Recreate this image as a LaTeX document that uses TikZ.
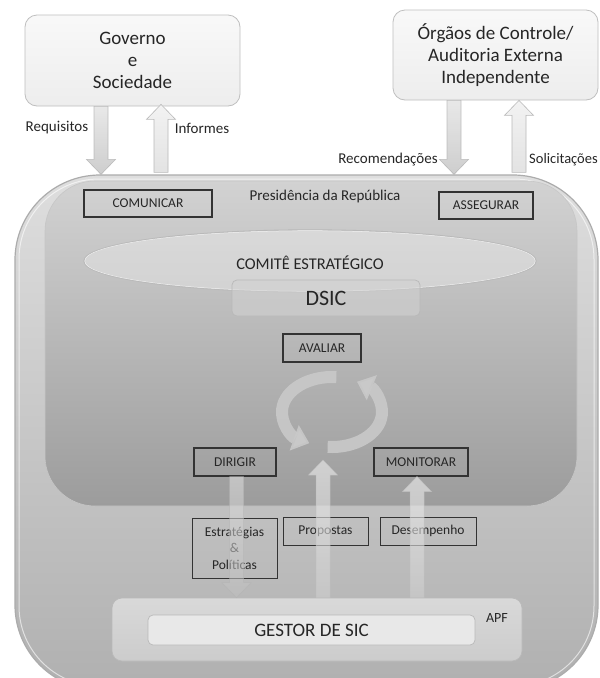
\documentclass[tikz,border=0pt]{standalone}
\usepackage{fontspec}
\setmainfont{Carlito}
\usetikzlibrary{shapes.geometric,arrows.meta,calc}
\definecolor{txt}{HTML}{262626}
\definecolor{outTop}{HTML}{DEDEDE}
\definecolor{outMid}{HTML}{D2D2D2}
\definecolor{outBot}{HTML}{B0B0B0}
\definecolor{inTop}{HTML}{D2D2D2}
\definecolor{inBot}{HTML}{9C9C9C}
\newcommand\vfat[3]{%
  \path[#3] let \p1=(#1), \p2=(#2), \p3=($(#2)!15pt!(#1)$) in
    (\x1-7pt,\y1) -- (\x1-7pt,\y3) -- (\x1-14.5pt,\y3) -- (\x2,\y2) --
    (\x1+14.5pt,\y3) -- (\x1+7pt,\y3) -- (\x1+7pt,\y1) -- cycle;}
\tikzset{
  topbox/.style={rectangle, rounded corners=12pt, draw=gray!50, line width=0.8pt,
    top color=gray!5, bottom color=gray!14, align=center, text=txt,
    font=\fontsize{19}{22}\selectfont, inner sep=0pt},
  tag/.style={rectangle, draw=black!80, line width=1.1pt, text=txt,
    font=\fontsize{13.5}{16.5}\selectfont, inner sep=0pt, align=center},
  lbl/.style={text=txt, font=\fontsize{15}{18}\selectfont, inner sep=0pt},
  fatdark/.style={draw=gray!60, line width=0.6pt, top color=gray!22, bottom color=gray!48, fill opacity=0.8, draw opacity=0.8},
  fatdir/.style={draw=gray!60, line width=0.5pt, top color=gray!25, bottom color=gray!50, fill opacity=0.55, draw opacity=0.6},
  fatlight/.style={draw=gray!55, line width=0.6pt, top color=gray!10, bottom color=gray!22},
  fatbot/.style={draw=gray!50, line width=0.5pt, top color=gray!12, bottom color=gray!38, fill opacity=0.6, draw opacity=0.7},
  cyc/.style={line width=12pt, draw=gray!42, -{Triangle[width=26pt,length=16pt]}, draw opacity=0.9},
}
\begin{document}
\begin{tikzpicture}[x=1pt,y=-1pt]
\useasboundingbox (0,0) rectangle (600,678);
\clip (0,0) rectangle (600,678);
\fill[white] (0,0) rectangle (600,678);

% top boxes
\node[topbox, minimum width=215pt, minimum height=91pt] (gov) at (132.5,60.5) {Governo\\e\\Sociedade};
\node[topbox, minimum width=205pt, minimum height=90pt] (org) at (495.5,55) {Órgãos de Controle/\\Auditoria Externa\\Independente};

% outer container
\node[draw=gray!65, line width=1.2pt, rounded corners=85pt, minimum width=583pt, minimum height=515pt,
  top color=outTop, middle color=outMid, bottom color=outBot, inner sep=0pt] (outer) at (306.5,432.5) {};
\node[draw=white, draw opacity=0.6, line width=1pt, rounded corners=80pt, minimum width=575pt, minimum height=507pt,
  inner sep=0pt] (outerhl) at (306.5,432.5) {};
% inner dark area
\node[draw=gray!45, line width=0.6pt, rounded corners=50pt, minimum width=532pt, minimum height=325pt,
  top color=inTop, bottom color=inBot, inner sep=0pt] (inner) at (311,343.5) {};

\node[lbl] (pres) at (325,196) {Presidência da República};
\node[tag, minimum width=128pt, minimum height=27pt] (com) at (148,203.5) {COMUNICAR};
\node[tag, minimum width=94pt, minimum height=27pt] (ass) at (486,205.5) {ASSEGURAR};

% comite / DSIC
\node[ellipse, minimum width=452pt, minimum height=62pt, inner sep=0pt, fill=gray!12, fill opacity=0.4,
  draw=gray!55, line width=1.3pt] (com1) at (310,261) {};
\draw[white, opacity=0.8, line width=0.5pt] (com1.center) ellipse[x radius=225.3, y radius=30.3];
\node[text=txt, font=\fontsize{16.4}{19}\selectfont] (comtxt) at (310,263) {COMITÊ ESTRATÉGICO};
\node[rectangle, rounded corners=5pt, minimum width=188pt, minimum height=36pt, inner sep=0pt,
  fill=gray!35, fill opacity=0.55, draw=gray!55, line width=0.7pt, text=txt, text opacity=1,
  font=\fontsize{22}{26}\selectfont] (dsic) at (326,298) {DSIC};

\node[tag, minimum width=78pt, minimum height=28pt] (aval) at (322,348) {AVALIAR};
\node[tag, minimum width=82pt, minimum height=28pt] (dir) at (235,462) {DIRIGIR};
\node[tag, minimum width=94pt, minimum height=28pt] (mon) at (421,462) {MONITORAR};

% cycle arrows
\draw[cyc] ([shift={(-85:50 and 35)}]332,412) arc[start angle=-85, end angle=-243, x radius=50, y radius=35];
\draw[cyc] ([shift={(-265:50 and 35)}]332,412) arc[start angle=-265, end angle=-420, x radius=50, y radius=35];

% APF / gestor
\node[rectangle, rounded corners=10pt, minimum width=410pt, minimum height=63pt, inner sep=0pt,
  top color=gray!30, bottom color=gray!40, draw=gray!55, line width=0.7pt] (apf) at (317,629.5) {};
\node[lbl, font=\fontsize{14}{16}\selectfont] (apftxt) at (497,618) {APF};
\node[rectangle, rounded corners=5pt, minimum width=327pt, minimum height=30pt, inner sep=0pt,
  fill=gray!18, draw=gray!55, line width=0.7pt, text=txt, font=\fontsize{19}{22}\selectfont] (gestor) at (311.5,630) {GESTOR DE SIC};

% label boxes
\node[tag, line width=1pt, minimum width=85pt, minimum height=60pt] (estr) at (234.5,548) {Estratégias\\\&\\Políticas};
\node[tag, line width=1pt, minimum width=85pt, minimum height=28pt] (prop) at (325.5,531) {Propostas};
\node[tag, line width=1pt, minimum width=96pt, minimum height=28pt] (des) at (428,531) {Desempenho};

% top labels
\node[lbl] (lreq) at (57,128) {Requisitos};
\node[lbl] (linf) at (202,128) {Informes};
\node[lbl] (lrec) at (388,160) {Recomendações};
\node[lbl, anchor=west, font=\fontsize{14.5}{17}\selectfont] (lsol) at (529,160) {Solicitações};

% top fat arrows
\coordinate (r1) at ($(gov.south)+(-31.5,0)$);
\coordinate (r2) at (r1 |- outer.north);
\coordinate (i1) at ($(gov.south)+(28.5,-2)$);
\coordinate (i2) at ($(i1 |- outer.north)+(0,-2)$);
\coordinate (c1) at ($(org.south)+(-41.5,0)$);
\coordinate (c2) at (c1 |- outer.north);
\coordinate (s1) at ($(org.south)+(23.5,0)$);
\coordinate (s2) at ($(s1 |- outer.north)+(0,-2)$);
\vfat{r1}{r2}{fatdark}
\vfat{i2}{i1}{fatlight}
\vfat{c1}{c2}{fatdark}
\vfat{s2}{s1}{fatlight}

% bottom fat arrows
\coordinate (d2) at ($(dir.south |- apf.north)+(1.5,0)$);
\coordinate (d1) at ($(dir.south)+(1.5,0)$);
\coordinate (ptip) at (323,460);
\coordinate (p1) at (ptip |- apf.north);
\coordinate (m2) at ($(mon.south)+(-4,0)$);
\coordinate (m1) at (m2 |- apf.north);
\vfat{d1}{d2}{fatdir}
\vfat{p1}{ptip}{fatbot}
\vfat{m1}{m2}{fatbot}
\end{tikzpicture}
\end{document}
